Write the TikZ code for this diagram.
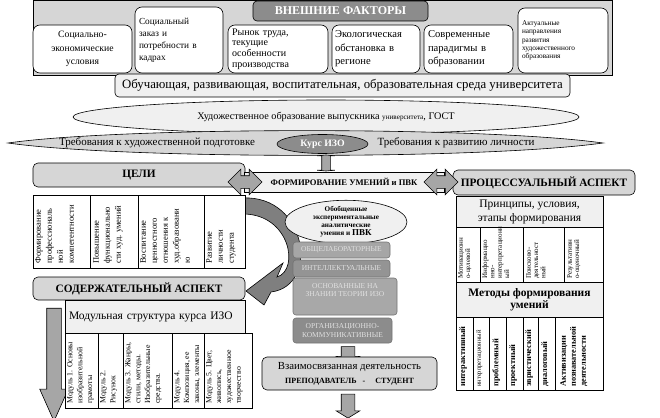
\documentclass[tikz,border=0pt]{standalone}
\usepackage{fontspec}
\setmainfont{Liberation Serif}
\usetikzlibrary{shapes.geometric,shapes.arrows}
\newcommand\fsz[2]{\fontsize{#1}{#2}\selectfont}
\definecolor{bgA}{HTML}{D6D6D6}
\definecolor{lightA}{HTML}{F0F0F0}
\definecolor{titleG}{HTML}{8C8C8C}
\definecolor{arrG}{HTML}{A6A6A6}
\definecolor{curveG}{HTML}{7F7F7F}
\begin{document}
\begin{tikzpicture}[x=1pt,y=-1pt,line width=0.6pt,
  every node/.style={inner sep=1pt},
  fac/.style={draw, rounded corners=7pt, fill=white, align=left},
  hdr/.style={draw, rounded corners=5pt, fill=bgA, font=\fsz{11.3}{13}\bfseries},
  cell/.style={draw, fill=white},
  rt/.style={rotate=90, anchor=north west, align=left, inner sep=0pt},
  stk/.style={draw=black!55, rounded corners=3pt, text=white!88!black, font=\fsz{7.5}{8.5}, align=center},
  blk/.style={draw, fill=arrG},
]
\useasboundingbox (0,0) rectangle (660,417);

% ---------- external factors ----------
\draw[fill=bgA] (33,0) rectangle (612,75);
\node[fac, minimum width=99, minimum height=48, align=center, font=\fsz{9.7}{13.5}] (f1) at (82.5,49) {Социально-\\экономические\\условия};
\node[fac, minimum width=88, minimum height=66, text width=80, font=\fsz{9.3}{12}] (f2) at (179,40) {Социальный\\заказ и\\потребности в\\кадрах};
\node[fac, minimum width=100, minimum height=48, text width=92, font=\fsz{10}{10.7}] (f3) at (278,49) {Рынок труда,\\текущие\\особенности\\производства};
\node[fac, minimum width=88, minimum height=48, text width=82, font=\fsz{10.6}{13.5}] (f4) at (376,49) {Экологическая\\обстановка в\\регионе};
\node[fac, minimum width=89, minimum height=48, text width=81, font=\fsz{10.6}{13.5}] (f5) at (468.5,49) {Современные\\парадигмы в\\образовании};
\node[fac, minimum width=90, minimum height=65, text width=82, font=\fsz{7.3}{8.3}] (f6) at (563,40.5) {Актуальные\\направления\\развития\\художественного\\образования};
\node[draw, rounded corners=4pt, fill=titleG, text=white, font=\fsz{12}{13}\bfseries, minimum width=175, minimum height=20] (ext) at (340.5,11) {ВНЕШНИЕ ФАКТОРЫ};

% ---------- environment / GOST / requirements ----------
\node[draw, rounded corners=4pt, fill=lightA, minimum width=455, minimum height=23, font=\fsz{12.8}{14}] (env) at (342.5,85.5) {Обучающая, развивающая, воспитательная, образовательная среда университета};
\node[ellipse, draw, fill=lightA, minimum width=506, minimum height=34, inner sep=0pt, font=\fsz{10.2}{12}] (gost) at (326,117) {Художественное образование выпускника {\fsz{7.2}{8}университета}, ГОСТ};
\draw[fill=bgA] (8,143) .. controls (120,127) and (480,126) .. (603,143) .. controls (480,160) and (120,159) .. cycle;
\node[font=\fsz{11}{12}] (treb1) at (157,143) {Требования к художественной подготовке};
\node[font=\fsz{11}{12}] (treb2) at (456,143) {Требования к развитию личности};
\node[ellipse, draw, fill=titleG, text=white, font=\fsz{9.8}{11}\bfseries, minimum width=91, minimum height=19, inner sep=0pt] (kurs) at (322.5,144) {Курс ИЗО};
\node[double arrow, blk, rotate=90, minimum height=16, minimum width=17, inner xsep=0pt, inner ysep=4pt, double arrow head extend=4.5pt, double arrow tip angle=170] (ibeam) at (326,163) {};

% ---------- curved arrow ----------
\draw[fill=curveG] (243,198) .. controls (307,195) and (320,286) .. (271,292)
  -- (264,305) -- (246,291) -- (283,263) -- (277,277)
  .. controls (300,270) and (290,214) .. (243,214) -- cycle;

% ---------- goals ----------
\node[hdr, minimum width=212, minimum height=24] (celi) at (139,175) {ЦЕЛИ};
\node[draw, fill=lightA, minimum width=200, minimum height=20, font=\fsz{8.6}{10}\bfseries] (form) at (344,182) {ФОРМИРОВАНИЕ УМЕНИЙ и ПВК};
\node[hdr, minimum width=182, minimum height=25] (proc) at (544,182.5) {ПРОЦЕССУАЛЬНЫЙ АСПЕКТ};
\node[double arrow, blk, minimum height=34, minimum width=25, inner xsep=0pt, inner ysep=6pt, double arrow head extend=6.5pt] (dl) at (245,182) {};
\node[double arrow, blk, minimum height=34, minimum width=25, inner xsep=0pt, inner ysep=6pt, double arrow head extend=6.5pt] (dr) at (441,182) {};

\draw[cell] (33,195) rectangle (245,268);
\draw (90,195) -- (90,268) (138,195) -- (138,268) (204,195) -- (204,268);
\begin{scope}[every node/.append style={rt, font=\fsz{8.5}{11}}]
\node (g1) at (35,264) {Формирование\\профессиональ\\ной\\компетентности};
\node (g2) at (93,264) {Повышение\\функционально\\сти худ. умений};
\node (g3) at (140,264) {Воспитание\\ценностного\\отношения к\\худ.образовани\\ю};
\node (g4) at (206,264) {Развитие\\личности\\студента};
\end{scope}

% ---------- centre stack ----------
\node[ellipse, draw, fill=lightA, minimum width=122, minimum height=42, inner sep=0pt, align=center, font=\fsz{7.2}{8}\bfseries] (gen) at (346,222) {Обобщенные\\экспериментальные\\аналитические\\умения и {\fsz{9}{8}ПВК}};
\node[stk, fill=black!35, minimum width=97, minimum height=16] (s1) at (341.5,250) {ОБЩЕЛАБОРАТОРНЫЕ};
\node[stk, fill=black!42, minimum width=97, minimum height=17] (s2) at (341.5,268.5) {ИНТЕЛЛЕКТУАЛЬНЫЕ};
\node[stk, fill=black!34, minimum width=104, minimum height=37] (s3) at (345,296.5) {};
\node[stk, draw=none, fill=none] (s3t) at (345,290) {ОСНОВАННЫЕ НА\\ЗНАНИИ ТЕОРИИ ИЗО};
\node[stk, fill=black!45, minimum width=99, minimum height=25] (s4) at (342.5,330.5) {ОРГАНИЗАЦИОННО-\\КОММУНИКАТИВНЫЕ};
\node[single arrow, blk, rotate=-90, minimum height=17, minimum width=23, inner xsep=0pt, inner ysep=6.5pt, single arrow head extend=5pt, single arrow tip angle=117] (a1) at (348,353) {};
\node[draw, rounded corners=5pt, fill=bgA, minimum width=175, minimum height=33, align=center, font=\fsz{10.8}{11}] (vz) at (349.5,373.5) {Взаимосвязанная деятельность\\[3pt]{\fsz{8}{9}\bfseries ПРЕПОДАВАТЕЛЬ\ \ \ -\ \ \ \ \ СТУДЕНТ}};
\node[single arrow, blk, rotate=-90, minimum height=24, minimum width=23, inner xsep=0pt, inner ysep=6.5pt, single arrow head extend=5pt, single arrow tip angle=117] (a2) at (348,404) {};

% ---------- content aspect ----------
\node[hdr, minimum width=212, minimum height=23] (cont) at (139,288.5) {СОДЕРЖАТЕЛЬНЫЙ АСПЕКТ};
\node[single arrow, blk, rotate=-90, minimum height=113, minimum width=27, inner xsep=0pt, inner ysep=7pt, single arrow head extend=7pt, single arrow tip angle=48] (bigd) at (54,356.5) {};
\node[draw, fill=lightA, minimum width=180, minimum height=33, text width=172, align=left, font=\fsz{11.5}{12}] (mod) at (155,316.5) {Модульная структура курса ИЗО};
\draw[cell] (65,333) rectangle (252,408);
\draw (98,333) -- (98,408) (123,333) -- (123,408) (172,333) -- (172,408) (204,333) -- (204,408);
\begin{scope}[every node/.append style={rt, font=\fsz{7.8}{9.8}}]
\node (m1) at (67,404) {Модуль 1. Основы\\изобразительной\\грамоты};
\node (m2) at (100,404) {Модуль 2.\\Рисунок};
\node (m3) at (125,404) {Модуль 3. Жанры,\\стили, методы.\\Изобразительные\\средства.};
\node (m4) at (174,404) {Модуль 4.\\Композиция, ее\\законы, элементы};
\node (m5) at (206,404) {Модуль 5. Цвет,\\живопись,\\художественное\\творчество};
\end{scope}

% ---------- process aspect ----------
\node[draw, fill=lightA, minimum width=147, minimum height=31, align=center, font=\fsz{11.5}{14}] (princ) at (529.5,211.5) {Принципы, условия,\\этапы формирования};
\draw[cell] (456,227) rectangle (603,282);
\draw (480,227) -- (480,282) (523,227) -- (523,282) (564,227) -- (564,282);
\begin{scope}[every node/.append style={rt, font=\fsz{7}{7.3}}]
\node (p1) at (458,279) {Мотивационн\\о-целевой};
\node (p2) at (482,279) {Информацио\\нно-\\интерпретационн\\ый};
\node (p3) at (526,279) {Поисково-\\деятельност\\ный};
\node (p4) at (567,279) {Результативн\\о-оценочный};
\end{scope}
\node[draw, fill=lightA, minimum width=147, minimum height=35, align=center, font=\fsz{11.5}{12.5}\bfseries] (meth) at (529.5,299.5) {Методы формирования\\умений};
\draw[cell] (456,317) rectangle (603,390);
\draw (473,317) -- (473,390) (489,317) -- (489,390) (506,317) -- (506,390) (523,317) -- (523,390) (538,317) -- (538,390) (555,317) -- (555,390);
\begin{scope}[every node/.append style={rt, font=\fsz{8.3}{10}\bfseries}]
\node (q1) at (459,387) {интерактивный};
\node[font=\fsz{6.5}{7}] (q2) at (476,387) {интерпретационный};
\node (q3) at (492,387) {проблемный};
\node (q4) at (509,387) {проектный};
\node (q5) at (525,387) {эвристический};
\node (q6) at (541,387) {диалоговый};
\node (q7) at (560,387) {Активизации\\познавательной\\деятельности};
\end{scope}
\end{tikzpicture}
\end{document}
